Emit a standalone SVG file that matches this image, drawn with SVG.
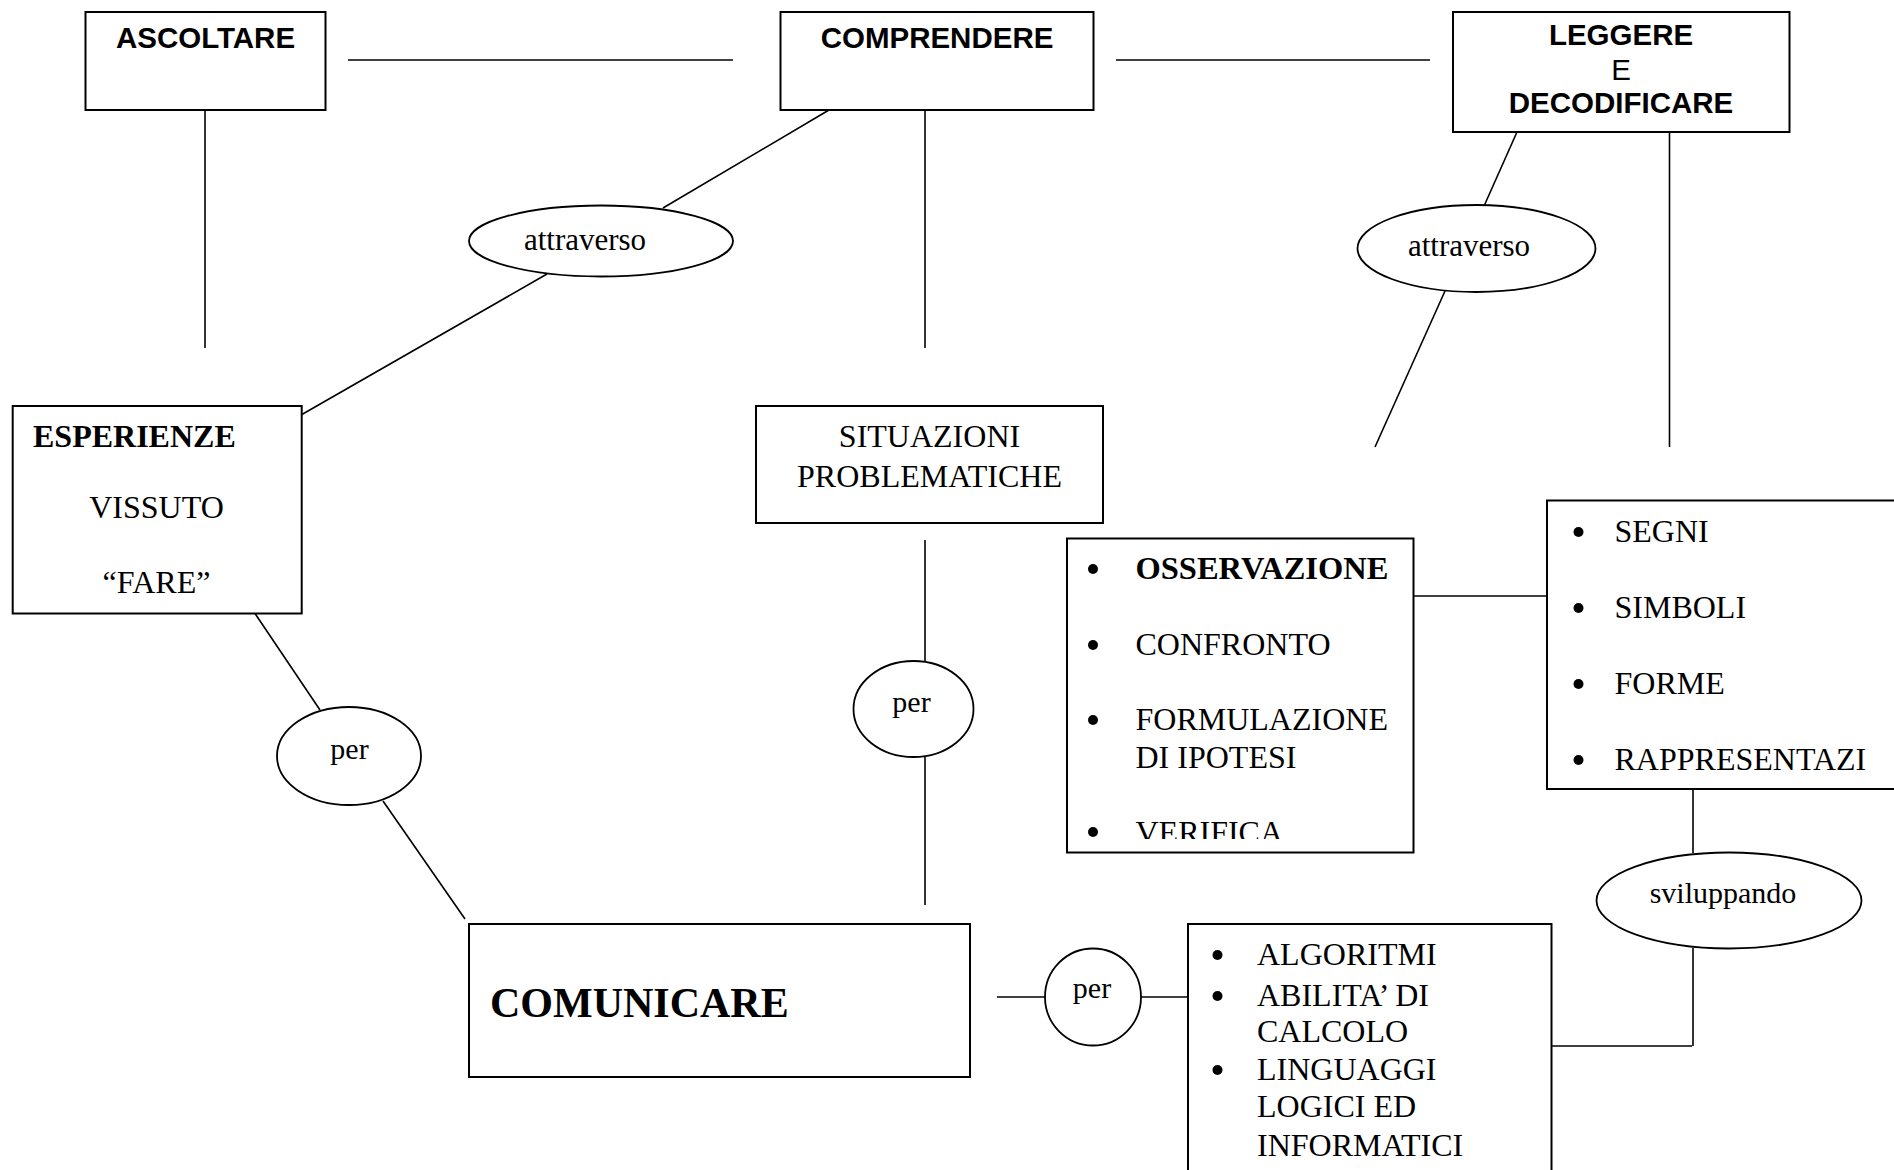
<svg xmlns="http://www.w3.org/2000/svg" width="1894" height="1170" viewBox="0 0 1894 1170">
<style>
.box{fill:#fff;stroke:#000;stroke-width:2}
.ell{fill:#fff;stroke:#000;stroke-width:1.8}
.ln{stroke:#000;stroke-width:1.6;fill:none}
.sans{font-family:"Liberation Sans",Arial,sans-serif;font-size:29.5px;font-weight:bold;fill:#000}
.sansr{font-family:"Liberation Sans",Arial,sans-serif;font-size:29.5px;fill:#000}
.serif{font-family:"Liberation Serif","Times New Roman",serif;font-size:32px;fill:#000}
.lbl{font-family:"Liberation Serif","Times New Roman",serif;font-size:30px;fill:#000}
.b{font-weight:bold}
.mid{text-anchor:middle}
</style>
<defs>
<clipPath id="clipVer"><rect x="1067" y="538" width="346" height="301"/></clipPath>
</defs>
<rect width="1894" height="1170" fill="#fff"/>
<g id="connectors">
<line class="ln" x1="348" y1="60" x2="733" y2="60"/>
<line class="ln" x1="1116" y1="60" x2="1430" y2="60"/>
<line class="ln" x1="205" y1="110" x2="205" y2="348"/>
<line class="ln" x1="925" y1="110" x2="925" y2="348"/>
<line class="ln" x1="829" y1="110" x2="663" y2="208"/>
<line class="ln" x1="547" y1="274" x2="301" y2="415"/>
<line class="ln" x1="1517" y1="132" x2="1484.5" y2="205"/>
<line class="ln" x1="1445" y1="291" x2="1375" y2="447"/>
<line class="ln" x1="1669.5" y1="132" x2="1669.5" y2="447"/>
<line class="ln" x1="254" y1="612" x2="320" y2="710"/>
<line class="ln" x1="383" y1="801" x2="465" y2="919"/>
<line class="ln" x1="925" y1="540" x2="925" y2="661"/>
<line class="ln" x1="925" y1="757" x2="925" y2="905"/>
<line class="ln" x1="1413" y1="596" x2="1547" y2="596"/>
<line class="ln" x1="997" y1="997" x2="1045" y2="997"/>
<line class="ln" x1="1141" y1="997" x2="1188" y2="997"/>
<line class="ln" x1="1693" y1="780" x2="1693" y2="853"/>
<line class="ln" x1="1693" y1="948" x2="1693" y2="1046"/>
<line class="ln" x1="1545" y1="1046" x2="1692" y2="1046"/>
</g>
<g id="ascoltare">
<rect class="box" x="85.5" y="12" width="240" height="98"/>
<text class="sans mid" x="205.5" y="48">ASCOLTARE</text>
</g>
<g id="comprendere">
<rect class="box" x="780.5" y="12" width="313" height="98"/>
<text class="sans mid" x="937" y="48">COMPRENDERE</text>
</g>
<g id="leggere">
<rect class="box" x="1453" y="12" width="336.5" height="120"/>
<text class="sans mid" x="1621" y="45">LEGGERE</text>
<text class="sansr mid" x="1621" y="80">E</text>
<text class="sans mid" x="1621" y="113">DECODIFICARE</text>
</g>
<g id="attraverso1">
<ellipse class="ell" cx="601" cy="241" rx="132" ry="35.5"/>
<text class="lbl mid" x="585" y="250" style="font-size:31px">attraverso</text>
</g>
<g id="attraverso2">
<ellipse class="ell" cx="1476.5" cy="248.5" rx="119" ry="43.5"/>
<text class="lbl mid" x="1469" y="256" style="font-size:31px">attraverso</text>
</g>
<g id="esperienze">
<rect class="box" x="12.7" y="406" width="289" height="207.5"/>
<text class="serif b" x="33" y="446.5">ESPERIENZE</text>
<text class="serif mid" x="156.5" y="518">VISSUTO</text>
<text class="serif mid" x="156.5" y="592.5">“FARE”</text>
</g>
<g id="situazioni">
<rect class="box" x="756" y="406" width="347" height="117"/>
<text class="serif mid" x="929.5" y="446.5">SITUAZIONI</text>
<text class="serif mid" x="929.5" y="487">PROBLEMATICHE</text>
</g>
<g id="osservazione">
<rect class="box" x="1067" y="538.5" width="346.5" height="314"/>
<circle cx="1093" cy="569" r="5"/>
<text class="serif b" x="1135.5" y="579" style="font-size:32.5px">OSSERVAZIONE</text>
<circle cx="1093" cy="645" r="5"/>
<text class="serif" x="1135.5" y="655">CONFRONTO</text>
<circle cx="1093" cy="720" r="5"/>
<text class="serif" x="1135.5" y="730">FORMULAZIONE</text>
<text class="serif" x="1135.5" y="768">DI IPOTESI</text>
<circle cx="1093" cy="832" r="5"/>
<text class="serif" x="1135.5" y="843" clip-path="url(#clipVer)">VERIFICA</text>
</g>
<g id="segni">
<rect class="box" x="1547" y="500.5" width="400" height="288.5"/>
<circle cx="1578.5" cy="532" r="5"/>
<text class="serif" x="1614.5" y="542">SEGNI</text>
<circle cx="1578.5" cy="608" r="5"/>
<text class="serif" x="1614.5" y="618">SIMBOLI</text>
<circle cx="1578.5" cy="684" r="5"/>
<text class="serif" x="1614.5" y="694">FORME</text>
<circle cx="1578.5" cy="760" r="5"/>
<text class="serif" x="1614.5" y="770">RAPPRESENTAZI</text>
</g>
<g id="per1">
<ellipse class="ell" cx="349" cy="756" rx="72" ry="49"/>
<text class="lbl mid" x="349.5" y="759">per</text>
</g>
<g id="per2">
<ellipse class="ell" cx="913.5" cy="709" rx="60" ry="48"/>
<text class="lbl mid" x="911.5" y="712">per</text>
</g>
<g id="sviluppando">
<ellipse class="ell" cx="1729" cy="900.5" rx="132.5" ry="48"/>
<text class="lbl mid" x="1723" y="903">sviluppando</text>
</g>
<g id="comunicare">
<rect class="box" x="469" y="924" width="501" height="153"/>
<text class="serif b" x="490" y="1017" style="font-size:42px">COMUNICARE</text>
</g>
<g id="per3">
<ellipse class="ell" cx="1093" cy="997" rx="48" ry="48.5"/>
<text class="lbl mid" x="1092" y="998">per</text>
</g>
<g id="algoritmi">
<rect class="box" x="1188" y="924" width="363.5" height="270"/>
<circle cx="1217.5" cy="955" r="5"/>
<text class="serif" x="1257" y="965">ALGORITMI</text>
<circle cx="1217.5" cy="996" r="5"/>
<text class="serif" x="1257" y="1006">ABILITA’ DI</text>
<text class="serif" x="1257" y="1042">CALCOLO</text>
<circle cx="1217.5" cy="1070" r="5"/>
<text class="serif" x="1257" y="1080">LINGUAGGI</text>
<text class="serif" x="1257" y="1117">LOGICI ED</text>
<text class="serif" x="1257" y="1156">INFORMATICI</text>
</g>
</svg>
